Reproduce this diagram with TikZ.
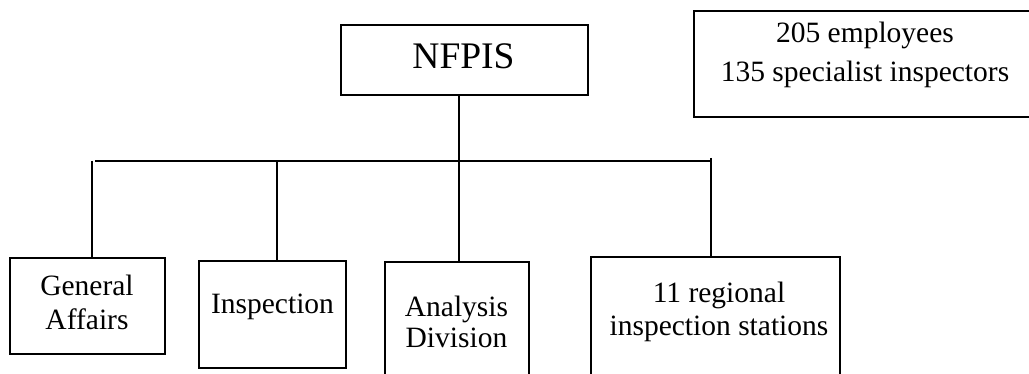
\documentclass[tikz,border=0pt]{standalone}
\usepackage{fontspec}
\setmainfont{Liberation Serif}
\begin{document}
\begin{tikzpicture}[x=1pt,y=-1pt,
  box/.style={draw,line width=2pt,inner sep=0pt,outer sep=0pt,rectangle},
  txt/.style={inner sep=0pt,outer sep=0pt,align=center,font=\fontsize{29.5}{33}\selectfont},
  link/.style={line width=2pt}]
\clip (0,0) rectangle (1029,374);
% boxes
\node[box,minimum width=247pt,minimum height=70pt] (nfpis) at (464.5,60) {};
\node[box,minimum width=342pt,minimum height=106pt] (stats) at (865,64) {};
\node[box,minimum width=155pt,minimum height=96pt] (ga) at (87.5,306) {};
\node[box,minimum width=147pt,minimum height=107pt] (insp) at (272.5,314.5) {};
\node[box,minimum width=144pt,minimum height=138pt] (ana) at (457,331) {};
\node[box,minimum width=249pt,minimum height=143pt] (reg) at (715.5,328.5) {};
% texts (base anchor = baseline of the last line)
\node[txt,anchor=base,font=\fontsize{37.5}{40}\selectfont] (nfpis-t) at (463.5,68.3) {NFPIS};
\node[txt,anchor=base,font=\fontsize{29.5}{39}\selectfont] (stats-t) at (865,81.7) {205 employees\\135 specialist inspectors};
\node[txt,anchor=base,font=\fontsize{29.5}{34}\selectfont] (ga-t) at (87,330) {General\\Affairs};
\node[txt,anchor=base] (insp-t) at (272.5,313) {Inspection};
\node[txt,anchor=base,font=\fontsize{29.5}{31.5}\selectfont] (ana-t) at (456.5,348) {Analysis\\Division};
\node[txt,anchor=base,font=\fontsize{29.5}{32.5}\selectfont] (reg-t) at (719,335) {11 regional\\inspection stations};
% connectors
\coordinate (xA) at (459,161);
\coordinate (xG) at (92,161);
\coordinate (xI) at (277,161);
\coordinate (xR) at (711,158);
\coordinate (busL) at (95,161);
\coordinate (busR) at (711,161);
\draw[link] (busL) -- (busR);
\draw[link] (nfpis.south -| xA) -- (ana.north -| xA);
\draw[link] (xG) -- (ga.north -| xG);
\draw[link] (xI) -- (insp.north -| xI);
\draw[link] (xR) -- (reg.north -| xR);
\end{tikzpicture}
\end{document}
